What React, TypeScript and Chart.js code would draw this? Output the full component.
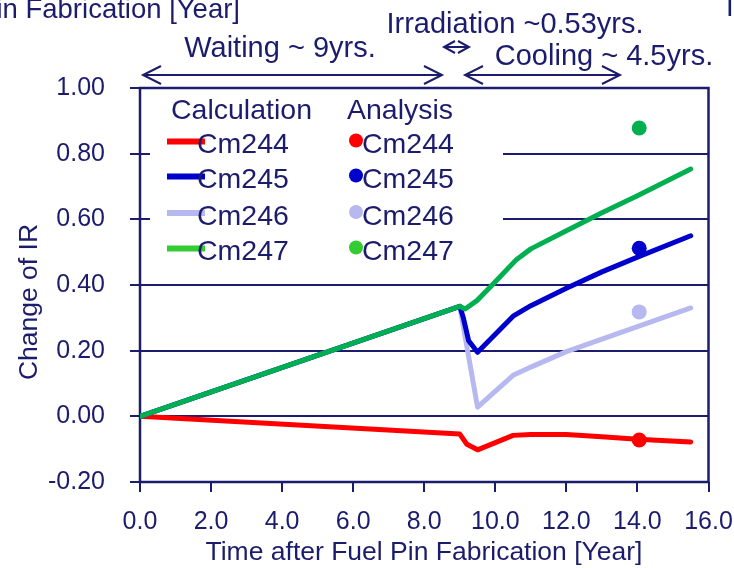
import React, { useEffect, useRef } from "react";
import { Chart, registerables } from "chart.js";

Chart.register(...registerables);

const FONT = "'Liberation Sans', Arial, Helvetica, sans-serif";
const INK = "#1c1c6c";

// ---- data ----
const seriesNames = ["Cm244", "Cm245", "Cm246", "Cm247"];

const cm244Years = [0, 9.0, 9.2, 9.5, 10.5, 11.0, 12.0, 13.0, 14.0, 15.5];
const cm244Calc = [0, -0.054, -0.085, -0.102, -0.058, -0.055, -0.055, -0.062, -0.07, -0.078];

const cm245Years = [0, 9.0, 9.1, 9.25, 9.5, 10.5, 11.0, 12.0, 13.0, 14.0, 15.5];
const cm245Calc = [0, 0.335, 0.3, 0.23, 0.195, 0.305, 0.337, 0.39, 0.44, 0.485, 0.55];

const cm246Years = [0, 9.0, 9.5, 10.5, 11.0, 12.0, 13.0, 14.0, 15.5];
const cm246Calc = [0, 0.335, 0.028, 0.125, 0.15, 0.197, 0.235, 0.273, 0.33];

const cm247Years = [0, 9.0, 9.15, 9.5, 10.0, 10.6, 11.0, 12.0, 13.0, 14.0, 15.5];
const cm247Calc = [0, 0.335, 0.327, 0.354, 0.41, 0.478, 0.51, 0.565, 0.62, 0.672, 0.753];

const analysisYear = 14.05;
const analysisValues = [-0.072, 0.512, 0.318, 0.878];

const lineColors = ["#ff0000", "#0000cc", "#b8b8f0", "#00b050"];
const legendColors = ["#ff0000", "#0000cc", "#b8b8f0", "#33cc33"];

const xAxisTitle = "Time after Fuel Pin Fabrication [Year]";
const yAxisTitle = "Change of IR";
const waitingLabel = "Waiting ~ 9yrs.";
const irradiationLabel = "Irradiation ~0.53yrs.";
const coolingLabel = "Cooling ~ 4.5yrs.";

const calcSeries = [
  [cm244Years, cm244Calc],
  [cm245Years, cm245Calc],
  [cm246Years, cm246Calc],
  [cm247Years, cm247Calc],
];

function toPoints(xs: number[], ys: number[]) {
  return xs.map((x, i) => ({ x, y: ys[i] }));
}

function drawArrow(ctx: CanvasRenderingContext2D, x1: number, x2: number, y: number, hx: number, hy: number) {
  ctx.beginPath();
  ctx.moveTo(x1, y);
  ctx.lineTo(x2, y);
  ctx.moveTo(x1 + hx, y - hy);
  ctx.lineTo(x1, y);
  ctx.lineTo(x1 + hx, y + hy);
  ctx.moveTo(x2 - hx, y - hy);
  ctx.lineTo(x2, y);
  ctx.lineTo(x2 - hx, y + hy);
  ctx.stroke();
}

const decorPlugin = {
  id: "decor",
  beforeDatasetsDraw(chart: any) {
    const ctx: CanvasRenderingContext2D = chart.ctx;
    const a = chart.chartArea;
    ctx.save();
    // legend background hides the grid behind it
    ctx.fillStyle = "#ffffff";
    ctx.fillRect(a.left + 10, a.top + 3, 353, 181);
    // frame
    ctx.strokeStyle = INK;
    ctx.lineWidth = 2.5;
    ctx.strokeRect(a.left, a.top, a.right - a.left, a.bottom - a.top);
    ctx.restore();
  },
  afterDraw(chart: any) {
    const ctx: CanvasRenderingContext2D = chart.ctx;
    ctx.save();
    ctx.fillStyle = INK;
    ctx.strokeStyle = INK;
    ctx.textBaseline = "alphabetic";

    // axis titles
    ctx.font = `26.5px ${FONT}`;
    ctx.textAlign = "center";
    ctx.fillText(xAxisTitle, 424, 560);
    ctx.save();
    ctx.translate(37, 302);
    ctx.rotate(-Math.PI / 2);
    ctx.fillText(yAxisTitle, 0, 0);
    ctx.restore();

    // clipped caption remnants at the top edge
    ctx.font = `27.5px ${FONT}`;
    ctx.textAlign = "right";
    ctx.fillText(xAxisTitle, 240, 18);
    ctx.textAlign = "left";
    ctx.fillText("I", 726, 16);

    // period annotations
    ctx.font = `29px ${FONT}`;
    ctx.textAlign = "center";
    ctx.fillText(irradiationLabel, 515, 33);
    ctx.fillText(waitingLabel, 280, 57);
    ctx.fillText(coolingLabel, 604, 65);
    ctx.lineWidth = 2;
    drawArrow(ctx, 143, 442, 75, 18, 9);
    drawArrow(ctx, 465, 620, 75, 18, 9);
    drawArrow(ctx, 444, 469, 47, 11, 6);

    // legend
    ctx.font = `28.5px ${FONT}`;
    ctx.textAlign = "left";
    ctx.fillText("Calculation", 171, 119);
    ctx.fillText("Analysis", 347, 119);
    const rows = [141.5, 176.5, 213, 248.5];
    rows.forEach((ry, i) => {
      ctx.strokeStyle = legendColors[i];
      ctx.lineWidth = 6;
      ctx.beginPath();
      ctx.moveTo(167, ry);
      ctx.lineTo(205, ry);
      ctx.stroke();
      ctx.fillStyle = legendColors[i];
      ctx.beginPath();
      ctx.arc(356, ry - 1, 7, 0, Math.PI * 2);
      ctx.fill();
      ctx.fillStyle = INK;
      ctx.fillText(seriesNames[i], 197, ry + 11.5);
      ctx.fillText(seriesNames[i], 362, ry + 11.5);
    });
    ctx.restore();
  },
};

export default function App() {
  const ref = useRef<HTMLCanvasElement>(null);
  useEffect(() => {
    if (!ref.current) return;
    const lineSets = calcSeries.map(([xs, ys], i) => ({
      type: "line" as const,
      label: seriesNames[i] + " calc",
      data: toPoints(xs, ys),
      borderColor: lineColors[i],
      backgroundColor: lineColors[i],
      borderWidth: 5,
      borderJoinStyle: "round" as const,
      borderCapStyle: "round" as const,
      pointRadius: 0,
      tension: 0,
      fill: false,
    }));
    const pointSets = analysisValues.map((v, i) => ({
      type: "line" as const,
      label: seriesNames[i] + " analysis",
      data: [{ x: analysisYear, y: v }],
      showLine: false,
      pointRadius: 7.5,
      pointBorderWidth: 0,
      pointBackgroundColor: lineColors[i],
      borderColor: lineColors[i],
    }));
    // dataset index 0 is drawn on top
    const datasets = [...pointSets, lineSets[3], lineSets[1], lineSets[2], lineSets[0]];
    const chart = new Chart(ref.current, {
      type: "line",
      data: { datasets },
      options: {
        animation: false,
        responsive: false,
        layout: { padding: { top: 88, right: 25.5, left: 0, bottom: 0 } },
        plugins: { legend: { display: false }, tooltip: { enabled: false } },
        scales: {
          x: {
            type: "linear",
            min: 0,
            max: 16,
            ticks: {
              stepSize: 2,
              autoSkip: false,
              maxRotation: 0,
              callback: (v: any) => Number(v).toFixed(1),
              font: { family: FONT, size: 25 },
              color: INK,
              padding: 15,
            },
            grid: { drawOnChartArea: false, tickLength: 10, color: INK, lineWidth: 2 },
            border: { display: false },
            afterFit: (s: any) => {
              s.height = 86;
              s.paddingLeft = 0;
              s.paddingRight = 0;
            },
          },
          y: {
            type: "linear",
            min: -0.2,
            max: 1.0,
            ticks: {
              stepSize: 0.2,
              callback: (v: any) => (Math.abs(Number(v)) < 1e-9 ? 0 : Number(v)).toFixed(2),
              font: { family: FONT, size: 25 },
              color: INK,
              padding: 25,
            },
            grid: { tickLength: 10, color: INK, lineWidth: 2 },
            border: { display: false },
            afterFit: (s: any) => {
              s.width = 140;
              s.paddingTop = 0;
              s.paddingBottom = 0;
            },
          },
        },
      },
      plugins: [decorPlugin],
    });
    return () => chart.destroy();
  }, []);
  return (
    <div style={{ position: "fixed", left: 0, top: 0, width: 734, height: 568, background: "#fff" }}>
      <canvas ref={ref} width={734} height={568} style={{ display: "block" }} />
    </div>
  );
}
